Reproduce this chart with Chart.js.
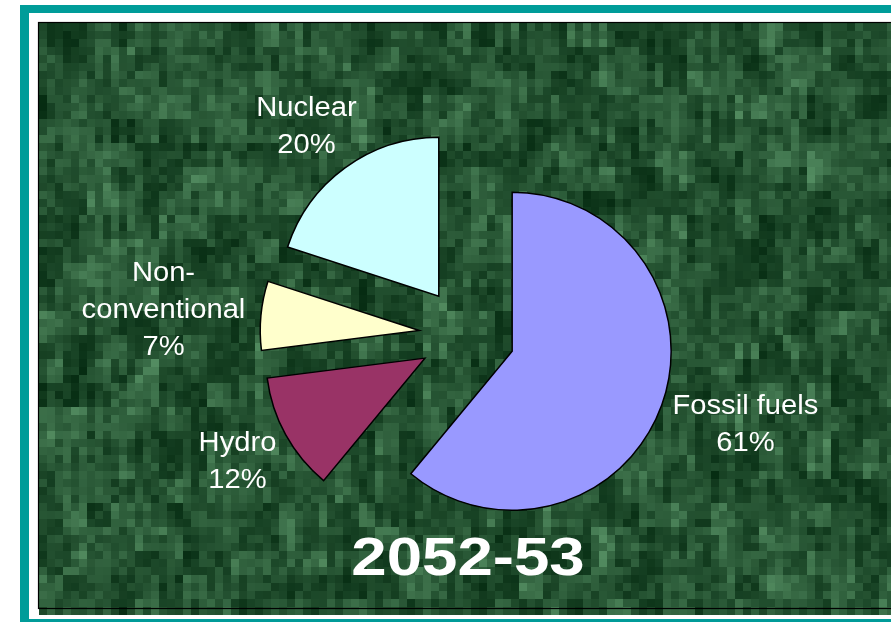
<!DOCTYPE html>
<html>
<head>
<meta charset="utf-8">
<script src="https://cdn.jsdelivr.net/npm/chart.js@4.4.0/dist/chart.umd.min.js"></script>
<style>
  html, body { margin: 0; padding: 0; background: #ffffff; }
  canvas { display: block; }
</style>
</head>
<body>
<canvas id="sharePie" width="891" height="622"></canvas>
<script>
// Share of electricity generation, 2052-53
var categories = ['Fossil fuels', 'Hydro', 'Non-conventional', 'Nuclear'];
var shares = [61, 12, 7, 20];
var sliceColors = ['#9999FF', '#993366', '#FFFFCC', '#CCFFFF'];
var chartTitle = '2052-53';

var explode = 48;

// deterministic hash for the mottled green backdrop
function hash(i, j, k) {
    var n = Math.sin(i * 127.1 + j * 311.7 + k * 74.7) * 43758.5453;
    return n - Math.floor(n);
}

var backdrop = {
    id: 'backdrop',
    beforeDraw: function(chart) {
        var ctx = chart.ctx;
        ctx.save();
        ctx.fillStyle = '#ffffff';
        ctx.fillRect(0, 0, chart.width, chart.height);
        // teal frame
        ctx.fillStyle = '#009C99';
        ctx.fillRect(20, 5, 900, 640);
        ctx.fillStyle = '#ffffff';
        ctx.fillRect(29, 13, 900, 606);
        // green panel
        var x0 = 39, y0 = 23, x1 = 900, y1 = 608;
        var bs = 8;
        for (var i = 0; i * bs < x1 - x0; i++) {
            for (var j = 0; j * bs < y1 - y0; j++) {
                var v = 0.3 * hash(i, j, 1) + 0.3 * hash(i, Math.floor(j / 4), 2) + 0.4 * hash(Math.floor(i / 3), Math.floor(j / 3), 3);
                v = Math.pow(v, 1.4);
                var r = Math.round(6 + 80 * v), g = Math.round(44 + 100 * v), b = Math.round(18 + 82 * v);
                ctx.fillStyle = 'rgb(' + r + ',' + g + ',' + b + ')';
                ctx.fillRect(x0 + i * bs, y0 + j * bs, bs, bs);
            }
        }
        ctx.strokeStyle = '#000000';
        ctx.lineWidth = 1.2;
        ctx.strokeRect(x0 - 0.5, y0 - 0.5, x1 - x0 + 1, y1 - y0 + 1);
        ctx.restore();
    }
};

// pull every slice out along its middle angle
var explodeSlices = {
    id: 'explodeSlices',
    afterDatasetsUpdate: function(chart) {
        chart.getDatasetMeta(0).data.forEach(function(arc) {
            var mid = (arc.startAngle + arc.endAngle) / 2;
            arc.x += Math.cos(mid) * explode;
            arc.y += Math.sin(mid) * explode;
        });
    }
};

function drawWide(ctx, text, x, y, sx) {
    ctx.save();
    ctx.translate(x, y);
    ctx.scale(sx, 1);
    ctx.fillText(text, 0, 0);
    ctx.restore();
}

var sliceLabels = {
    id: 'sliceLabels',
    afterDatasetsDraw: function(chart) {
        var ctx = chart.ctx;
        var total = shares.reduce(function(a, b) { return a + b; }, 0);
        var sx = 1.08;
        ctx.save();
        ctx.fillStyle = '#ffffff';
        ctx.font = '27px "Liberation Sans", Arial, sans-serif';
        ctx.textAlign = 'center';
        ctx.textBaseline = 'alphabetic';
        chart.getDatasetMeta(0).data.forEach(function(arc, i) {
            var name = categories[i];
            var lines = name.indexOf('-') > 0 ? [name.split('-')[0] + '-', name.split('-')[1]] : [name];
            lines.push(Math.round(shares[i] / total * 100) + '%');
            var w = sx * Math.max.apply(null, lines.map(function(t) { return ctx.measureText(t).width; }));
            var lh = 37, h = lines.length * lh;
            var mid = (arc.startAngle + arc.endAngle) / 2;
            var dx = Math.cos(mid), dy = Math.sin(mid);
            var d = arc.outerRadius + 16;
            var cx = arc.x + dx * d + dx * w / 2;
            var cy = arc.y + dy * d + dy * h / 2;
            var top = cy - h / 2;
            lines.forEach(function(t, k) {
                drawWide(ctx, t, cx, top + 28 + k * lh, sx);
            });
        });
        // title
        ctx.font = 'bold 53px "Liberation Sans", Arial, sans-serif';
        drawWide(ctx, chartTitle, 468, 575, 1.2);
        ctx.restore();
    }
};

var ctx = document.getElementById('sharePie').getContext('2d');
var sharePie = new Chart(ctx, {
    type: 'pie',
    data: {
        labels: categories,
        datasets: [{
            data: shares,
            backgroundColor: sliceColors,
            borderColor: '#000000',
            borderWidth: 1.5,
            borderJoinStyle: 'miter',
            radius: 159
        }]
    },
    options: {
        responsive: false,
        animation: false,
        layout: {
            padding: { left: 98, right: 55, top: 100, bottom: 52 }
        },
        plugins: {
            legend: { display: false },
            tooltip: { enabled: false }
        }
    },
    plugins: [backdrop, explodeSlices, sliceLabels]
});
</script>
</body>
</html>
